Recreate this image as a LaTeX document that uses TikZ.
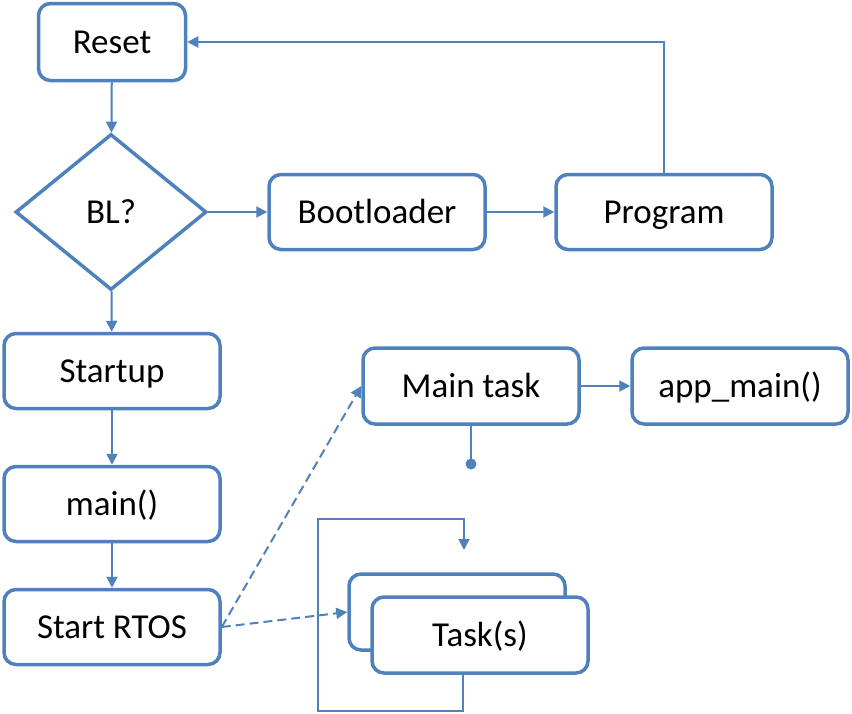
\documentclass[tikz,border=0pt]{standalone}
\usepackage{fontspec}
\setmainfont{Carlito}
\usetikzlibrary{shapes.geometric,arrows.meta}
\definecolor{obl}{RGB}{79,129,189}
\begin{document}
\begin{tikzpicture}[x=1pt,y=-1pt,
  font=\fontsize{35}{42}\selectfont,
  every node/.style={text height=22pt,text depth=0pt},
  box/.style={draw=obl,line width=3.5pt,rounded corners=12pt,fill=white,
    minimum width=216pt,minimum height=75pt,inner sep=0pt},
  conn/.style={draw=obl,line width=2pt,-{Triangle[length=11pt,width=11pt]}},
  dconn/.style={conn,dash pattern=on 9pt off 5pt}]
\useasboundingbox (0,0) rectangle (852,713);
\node[box,minimum width=147pt,minimum height=77pt] (reset) at (112,42) {Reset};
\node[draw=obl,line width=3.5pt,diamond,minimum width=191pt,minimum height=156pt,inner sep=0pt] (bl) at (111,212) {BL?};
\node[box] (boot) at (377,212) {Bootloader};
\node[box] (prog) at (664,212) {Program};
\node[box] (startup) at (112,371) {Startup};
\node[box] (main) at (112,504) {main()};
\node[box] (rtos) at (112,627) {Start RTOS};
\node[box,minimum height=76pt] (mtask) at (471,386) {Main task};
\node[box,minimum height=76pt] (app) at (740,386) {app\_main()};
\node[box,minimum height=76pt] (tback) at (457,612) {};
\node[box,minimum height=76pt] (task) at (480,635) {Task(s)};
\fill[obl] (471,464) circle (5.5pt) coordinate (dot);
\coordinate (lp1) at (463,711);
\coordinate (lp2) at (318,711);
\coordinate (lp3) at (318,519);
\coordinate (lp4) at (464,519);
\coordinate (lp5) at (464,550);
\coordinate (ret) at (664,42);
\draw[conn] (reset) -- (bl);
\draw[conn] (bl) -- (boot);
\draw[conn] (boot) -- (prog);
\draw[conn] (prog.north) -- (ret) -- (reset.east);
\draw[conn] (bl) -- (startup);
\draw[conn] (startup) -- (main);
\draw[conn] (main) -- (rtos);
\draw[conn] (mtask) -- (app);
\draw[draw=obl,line width=2pt] (mtask.south) -- (dot);
\draw[dconn] (rtos.east) -- (mtask.west);
\draw[dconn] (rtos.east) -- (tback.west);
\draw[conn] (task.south -| lp1) -- (lp1) -- (lp2) -- (lp3) -- (lp4) -- (lp5);
\end{tikzpicture}
\end{document}
